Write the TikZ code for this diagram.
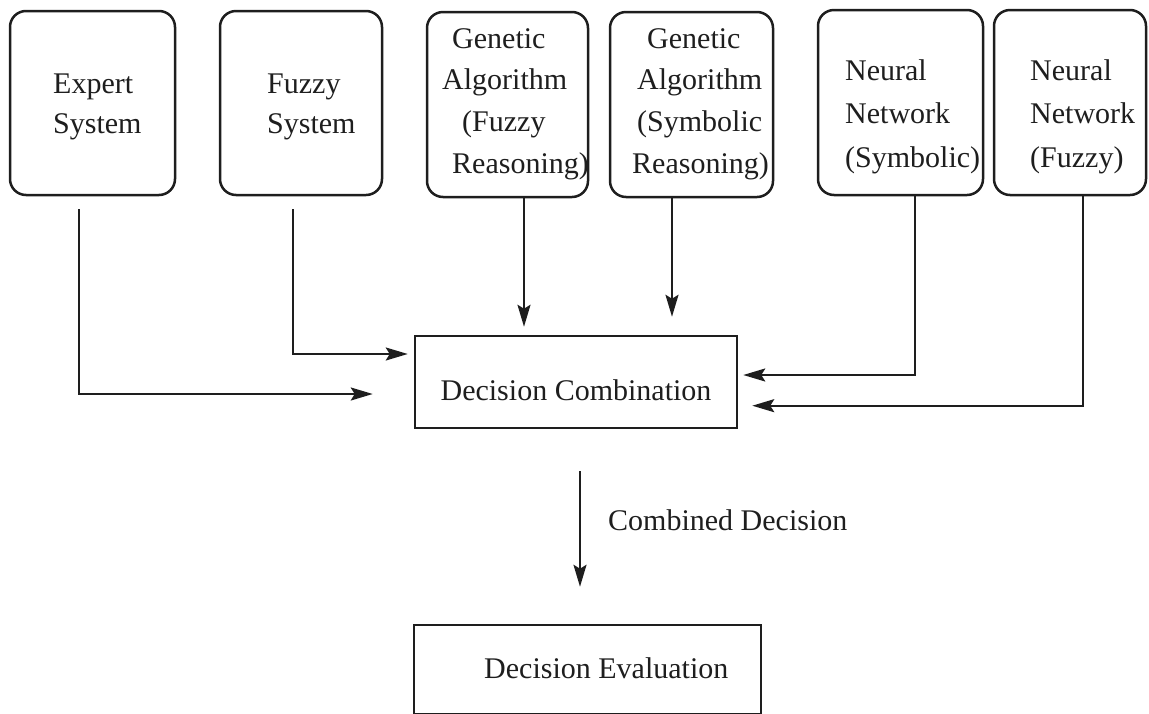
\documentclass[tikz,border=0pt]{standalone}
\usepackage{fontspec}
\setmainfont{Liberation Serif}
\usetikzlibrary{arrows.meta}
\definecolor{ink}{HTML}{1E1E1E}
% zero-width strut that fixes the height of a label's first line
\newcommand\lnstrut{\rule{0pt}{22pt}}
\begin{document}
\begin{tikzpicture}[x=1pt,y=-1pt,
  module/.style={draw=ink,line width=2.5pt,rounded corners=16pt,inner sep=0pt},
  stage/.style={draw=ink,line width=2.5pt,inner sep=0pt},
  lines/.style={inner sep=0pt,text=ink,align=left,anchor=north west},
  caption/.style={inner sep=0pt,text=ink,font=\fontsize{30}{36}\selectfont},
  flow/.style={draw=ink,line width=2.3pt,-{Stealth[length=22pt,width=13pt,inset=4pt]}},
]
\useasboundingbox (0,0) rectangle (1149,713);

% classifier modules
\node[module,minimum width=165pt,minimum height=184pt] (expert)  at (92.5,103)   {};
\node[module,minimum width=162pt,minimum height=184pt] (fuzzy)   at (301,103)    {};
\node[module,minimum width=161pt,minimum height=185pt] (gafuzzy) at (507.5,104.5) {};
\node[module,minimum width=163pt,minimum height=185pt] (gasym)   at (691.5,104.5) {};
\node[module,minimum width=165pt,minimum height=185pt] (nnsym)   at (900.5,102.5) {};
\node[module,minimum width=152pt,minimum height=185pt] (nnfuzzy) at (1070,102.5) {};

% module labels
\node[lines,font=\fontsize{30}{40}\selectfont] (expert-text) at (53,71)
  {\lnstrut Expert\\System};
\node[lines,font=\fontsize{30}{40}\selectfont] (fuzzy-text) at (267,71)
  {\lnstrut Fuzzy\\System};
\node[lines,font=\fontsize{30}{41.7}\selectfont] (gafuzzy-text) at (442,26)
  {\lnstrut\hspace*{10pt}Genetic\\Algorithm\\\hspace*{20pt}(Fuzzy\\\hspace*{10pt}Reasoning)};
\node[lines,font=\fontsize{30}{41.7}\selectfont] (gasym-text) at (632,26)
  {\lnstrut\hspace*{15pt}Genetic\\\hspace*{5pt}Algorithm\\\hspace*{5pt}(Symbolic\\Reasoning)};
\node[lines,font=\fontsize{30}{43.5}\selectfont] (nnsym-text) at (845,58)
  {\lnstrut Neural\\Network\\(Symbolic)};
\node[lines,font=\fontsize{30}{43.5}\selectfont] (nnfuzzy-text) at (1030,58)
  {\lnstrut Neural\\Network\\(Fuzzy)};

% combination and evaluation stages
\node[stage,minimum width=322pt,minimum height=92pt] (comb) at (576,382) {};
\node[caption,anchor=base] (comb-text) at (576,400) {Decision Combination};
\node[stage,minimum width=347pt,minimum height=89pt] (eval) at (587.5,669.5) {};
\node[caption,anchor=base west] (eval-text) at (484,678) {Decision Evaluation};
\node[caption,anchor=base west] (combined-text) at (608,530) {Combined Decision};

% decisions flowing into the combiner
\draw[flow,shorten <=13pt,shorten >=41pt] ([xshift=-13.5pt]expert.south) |- ([yshift=-12pt]comb.west);
\draw[flow,shorten <=13pt,shorten >=6pt]  ([xshift=-8pt]fuzzy.south) |- ([yshift=28pt]comb.west);
\draw[flow,shorten >=8pt]  ([xshift=16.5pt]gafuzzy.south) -- ([xshift=16.5pt]gafuzzy.south |- comb.north);
\draw[flow,shorten >=18pt] ([xshift=-19.5pt]gasym.south) -- ([xshift=-19.5pt]gasym.south |- comb.north);
\draw[flow,shorten >=5pt]  ([xshift=14.5pt]nnsym.south) |- ([yshift=7pt]comb.east);
\draw[flow,shorten >=14pt] ([xshift=13pt]nnfuzzy.south) |- ([yshift=-23.7pt]comb.east);

% combined decision passed on for evaluation
\draw[flow,shorten <=42pt,shorten >=37pt] ([xshift=4pt]comb.south) -- ([xshift=4pt]comb.south |- eval.north);
\end{tikzpicture}
\end{document}
